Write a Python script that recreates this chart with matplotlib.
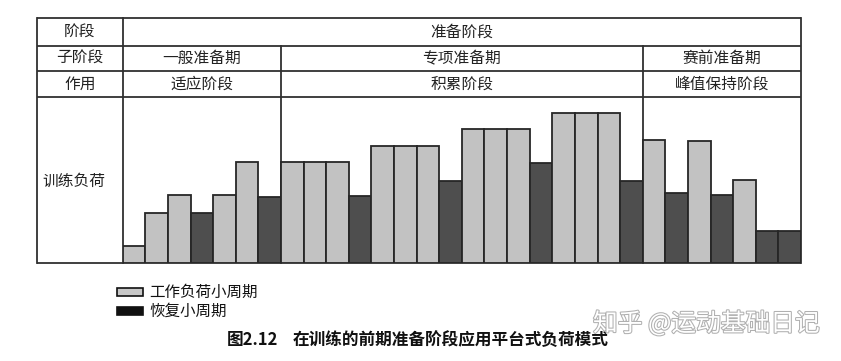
import matplotlib
matplotlib.use("Agg")
import matplotlib.pyplot as plt
from matplotlib.patches import Rectangle
import matplotlib.patheffects as pe

plt.rcParams['font.family'] = ['Noto Sans CJK SC', 'DejaVu Sans']

# ---------------- data ----------------
loads = [17, 50, 68, 50, 68, 101, 66,
         101, 101, 101, 67, 117, 117, 117, 82, 134, 134, 134, 100, 150, 150, 150, 82,
         123, 70, 122, 68, 83, 32, 32]
kinds = ['w', 'w', 'w', 'r', 'w', 'w', 'r',
         'w', 'w', 'w', 'r', 'w', 'w', 'w', 'r', 'w', 'w', 'w', 'r', 'w', 'w', 'w', 'r',
         'w', 'r', 'w', 'r', 'w', 'r', 'r']
phase_label = '准备阶段'
subphases = ['一般准备期', '专项准备期', '赛前准备期']
roles = ['适应阶段', '积累阶段', '峰值保持阶段']
sub_counts = [7, 16, 7]
row_labels = ['阶段', '子阶段', '作用', '训练负荷']
legend_labels = ['工作负荷小周期', '恢复小周期']
caption_num = '图2.12'
caption_text = '在训练的前期准备阶段应用平台式负荷模式'
watermark = '知乎 @运动基础日记'

LIGHT = '#c2c2c2'
DARK = '#4e4e4e'
EDGE = '#262626'
LINE = '#303030'

# ---------------- layout (pixels) ----------------
W, H = 841, 361
L, X0, R = 37, 122.7, 801
Y_TOP, Y1, Y2, Y3, Y_BASE = 18, 45.7, 71, 96.7, 263
n = len(loads)
bw = (R - X0) / n

fig = plt.figure(figsize=(W / 100, H / 100), dpi=100)
ov = fig.add_axes([0, 0, 1, 1])
ov.set_xlim(0, W)
ov.set_ylim(H, 0)
ov.axis('off')

# bars axis
ax = fig.add_axes([X0 / W, (H - Y_BASE) / H, (R - X0) / W, (Y_BASE - Y3) / H])
ax.set_xlim(0, n)
ax.set_ylim(0, Y_BASE - Y3)
ax.axis('off')
ax.patch.set_alpha(0)
colors = [LIGHT if k == 'w' else DARK for k in kinds]
ax.bar(range(n), loads, width=1.0, align='edge', color=colors,
       edgecolor=EDGE, linewidth=1.3, zorder=3)

# table lines
lw = 1.3
for y in (Y_TOP, Y1, Y2, Y3, Y_BASE):
    ov.plot([L, R], [y, y], color=LINE, lw=lw, solid_capstyle='butt')
for x in (L, X0, R):
    ov.plot([x, x], [Y_TOP, Y_BASE], color=LINE, lw=lw)
bounds = [0]
for c in sub_counts:
    bounds.append(bounds[-1] + c)
for b in bounds[1:-1]:
    x = X0 + b * bw
    ov.plot([x, x], [Y1, Y_BASE], color=LINE, lw=lw)

tc = '#222222'
fs = 11.3
colx = (L + X0) / 2
ov.text(colx, (Y_TOP + Y1) / 2, row_labels[0], ha='center', va='center', fontsize=fs, color=tc)
ov.text(colx, (Y1 + Y2) / 2, row_labels[1], ha='center', va='center', fontsize=fs, color=tc)
ov.text(colx, (Y2 + Y3) / 2, row_labels[2], ha='center', va='center', fontsize=fs, color=tc)
ov.text(74, 181, row_labels[3], ha='center', va='center', fontsize=fs, color=tc)
ov.text((X0 + R) / 2, (Y_TOP + Y1) / 2, phase_label, ha='center', va='center', fontsize=fs, color=tc)
for i, (sp, rl) in enumerate(zip(subphases, roles)):
    xa = X0 + bounds[i] * bw
    xb = X0 + bounds[i + 1] * bw
    ov.text((xa + xb) / 2, (Y1 + Y2) / 2, sp, ha='center', va='center', fontsize=fs, color=tc)
    ov.text((xa + xb) / 2, (Y2 + Y3) / 2, rl, ha='center', va='center', fontsize=fs, color=tc)

# legend
ov.add_patch(Rectangle((117, 288), 26, 8, facecolor='#c8c8c8', edgecolor='#111111', lw=1.2))
ov.add_patch(Rectangle((117, 307), 26, 8, facecolor='#111111', edgecolor='#111111', lw=1.2))
ov.text(149, 292, legend_labels[0], ha='left', va='center', fontsize=11.2, color='#111111')
ov.text(149, 311, legend_labels[1], ha='left', va='center', fontsize=11.2, color='#111111')

# caption
ov.text(227, 340, caption_num, ha='left', va='center', fontsize=12, fontweight='bold', color='#111111')
ov.text(293, 340, caption_text, ha='left', va='center', fontsize=12, fontweight='bold', color='#111111')

# watermark
ov.text(593, 324, watermark, ha='left', va='center', fontsize=17.8, color='#ffffff',
        path_effects=[pe.withStroke(linewidth=1.5, foreground='#b0b0b0')])

fig.savefig('out.png', dpi=100)
